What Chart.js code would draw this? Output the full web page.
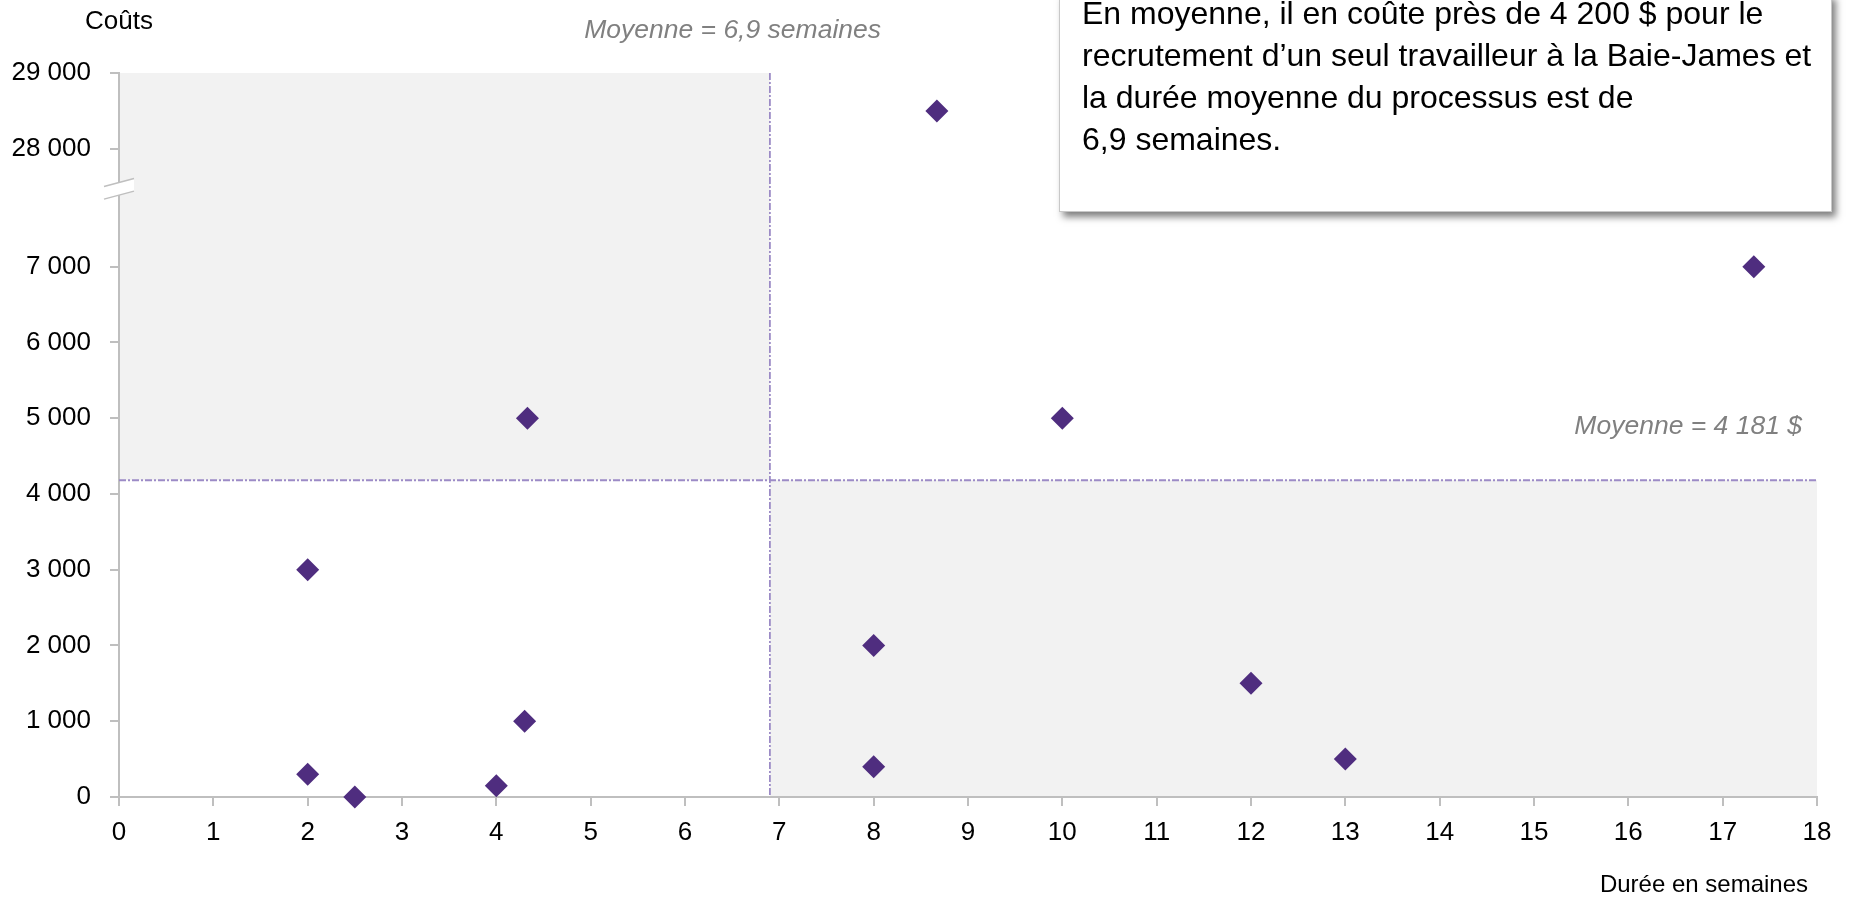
<!DOCTYPE html>
<html>
<head>
<meta charset="utf-8">
<script src="https://cdn.jsdelivr.net/npm/chart.js@4/dist/chart.umd.min.js"></script>
<style>
  html, body { margin: 0; padding: 0; background: #ffffff; }
  #wrap { position: relative; width: 1849px; height: 897px; }
</style>
</head>
<body>
<div id="wrap"><canvas id="chart"></canvas></div>
<script>
const FONT = '"Liberation Sans", Arial, sans-serif';

// Recruitment duration (weeks) and cost ($) per hire
const X_WEEKS = [2, 2, 2.5, 4, 4.3, 4.33, 8, 8, 8.67, 10, 12, 13, 17.33];
const Y_COSTS = [3000, 300, 0, 150, 1000, 5000, 2000, 400, 28500, 5000, 1500, 500, 7000];

const X_TICKS = [0, 1, 2, 3, 4, 5, 6, 7, 8, 9, 10, 11, 12, 13, 14, 15, 16, 17, 18];
const Y_TICKS = [0, 1000, 2000, 3000, 4000, 5000, 6000, 7000, 28000, 29000];

const MEAN_WEEKS = 6.9;
const MEAN_COST = 4181;

// The cost axis is cut between 7 000 and 28 000
const Y_BREAK = { low: 7000, high: 28000, gap: 1556 };

const LABEL_MEAN_WEEKS = 'Moyenne = 6,9 semaines';
const LABEL_MEAN_COST = 'Moyenne = 4 181 $';
const TITLE_Y = 'Coûts';
const TITLE_X = 'Durée en semaines';
const NOTE_LINES = [
  'En moyenne, il en coûte près de 4 200 $ pour le',
  'recrutement d’un seul travailleur à la Baie-James et',
  'la durée moyenne du processus est de',
  '6,9 semaines.'
];

const PURPLE = '#4f2d7f';
const AXIS_GREY = '#bfbfbf';
const SHADE = '#f2f2f2';
const MEAN_LINE = '#9c8bc6';

function toAxis(v) {
  return v <= Y_BREAK.low ? v : v - Y_BREAK.high + Y_BREAK.low + Y_BREAK.gap;
}
function fromAxis(a) {
  return a <= Y_BREAK.low ? a : a - Y_BREAK.low - Y_BREAK.gap + Y_BREAK.high;
}
function fmt(n) {
  return String(Math.round(n)).replace(/\B(?=(\d{3})+(?!\d))/g, ' ');
}

const points = X_WEEKS.map((x, i) => ({ x: x, y: toAxis(Y_COSTS[i]) }));

// Shaded quadrants under everything
const quadrants = {
  id: 'quadrants',
  beforeDraw(chart) {
    const { ctx, chartArea: a, scales: { x, y } } = chart;
    const mx = x.getPixelForValue(MEAN_WEEKS);
    const my = y.getPixelForValue(MEAN_COST);
    ctx.save();
    ctx.fillStyle = SHADE;
    ctx.fillRect(a.left, a.top, mx - a.left, my - a.top);
    ctx.fillRect(mx, my, a.right - mx, a.bottom - my);
    ctx.restore();
  }
};

// Dash-dot mean lines
const meanLines = {
  id: 'meanLines',
  beforeDatasetsDraw(chart) {
    const { ctx, chartArea: a, scales: { x, y } } = chart;
    const mx = x.getPixelForValue(MEAN_WEEKS);
    const my = y.getPixelForValue(MEAN_COST);
    ctx.save();
    ctx.strokeStyle = MEAN_LINE;
    ctx.lineWidth = 1.8;
    ctx.setLineDash([7, 2, 2, 2]);
    ctx.beginPath();
    ctx.moveTo(mx, a.top);
    ctx.lineTo(mx, a.bottom);
    ctx.moveTo(a.left, my);
    ctx.lineTo(a.right, my);
    ctx.stroke();
    ctx.restore();
  }
};

// Axis break, titles, mean labels and the note box
const overlay = {
  id: 'overlay',
  afterDraw(chart) {
    const { ctx, chartArea: a, scales: { x, y } } = chart;
    ctx.save();

    // axis break marker
    const yLow = y.getPixelForValue(toAxis(Y_BREAK.low));
    const yHigh = y.getPixelForValue(toAxis(Y_BREAK.high));
    const by = yLow - (yLow - yHigh) * 0.66;
    const bx = a.left;
    const hw = 15, rise = 4, sep = 6.3;
    ctx.fillStyle = '#ffffff';
    ctx.beginPath();
    ctx.moveTo(bx - hw, by + rise + sep);
    ctx.lineTo(bx + hw, by - rise + sep);
    ctx.lineTo(bx + hw, by - rise - sep);
    ctx.lineTo(bx - hw, by + rise - sep);
    ctx.closePath();
    ctx.fill();
    ctx.strokeStyle = AXIS_GREY;
    ctx.lineWidth = 1.5;
    ctx.beginPath();
    ctx.moveTo(bx - hw, by + rise + sep);
    ctx.lineTo(bx + hw, by - rise + sep);
    ctx.moveTo(bx - hw, by + rise - sep);
    ctx.lineTo(bx + hw, by - rise - sep);
    ctx.stroke();

    // axis titles
    ctx.fillStyle = '#000000';
    ctx.font = '26px ' + FONT;
    ctx.textBaseline = 'middle';
    ctx.textAlign = 'center';
    ctx.fillText(TITLE_Y, a.left, 22);
    ctx.font = '24px ' + FONT;
    ctx.textAlign = 'right';
    ctx.fillText(TITLE_X, 1808, 885);

    // mean labels
    ctx.fillStyle = '#808080';
    ctx.font = 'italic 26.5px ' + FONT;
    ctx.textAlign = 'right';
    ctx.fillText(LABEL_MEAN_WEEKS, 881, 31);
    ctx.fillText(LABEL_MEAN_COST, 1802, 427);

    // note box
    const bx0 = 1059, by0 = -6, bw = 773, bh = 218;
    ctx.save();
    ctx.shadowColor = 'rgba(0,0,0,0.5)';
    ctx.shadowBlur = 7;
    ctx.shadowOffsetX = 4;
    ctx.shadowOffsetY = 5;
    ctx.fillStyle = '#ffffff';
    ctx.fillRect(bx0, by0, bw, bh);
    ctx.restore();
    ctx.strokeStyle = '#c8c8c8';
    ctx.lineWidth = 1;
    ctx.strokeRect(bx0 + 0.5, by0 + 0.5, bw - 1, bh - 1);

    ctx.fillStyle = '#000000';
    ctx.font = '32px ' + FONT;
    ctx.textAlign = 'left';
    ctx.textBaseline = 'middle';
    NOTE_LINES.forEach((line, i) => ctx.fillText(line, 1082, 15 + i * 42));

    ctx.restore();
  }
};

new Chart(document.getElementById('chart'), {
  type: 'scatter',
  data: {
    datasets: [{
      data: points,
      pointStyle: 'rectRot',
      pointRadius: 11.5,
      pointHoverRadius: 11.5,
      backgroundColor: PURPLE,
      borderColor: PURPLE,
      borderWidth: 0,
      clip: false
    }]
  },
  options: {
    responsive: true,
    maintainAspectRatio: false,
    animation: false,
    events: [],
    layout: { padding: { left: 0, right: 32, top: 73, bottom: 0 } },
    plugins: { legend: { display: false }, tooltip: { enabled: false } },
    scales: {
      x: {
        type: 'linear',
        min: X_TICKS[0],
        max: X_TICKS[X_TICKS.length - 1],
        afterBuildTicks: s => { s.ticks = X_TICKS.map(v => ({ value: v })); },
        afterFit: s => { s.height = 100; },
        grid: {
          drawOnChartArea: false,
          drawTicks: true,
          tickLength: 9,
          color: AXIS_GREY,
          lineWidth: 2
        },
        border: { display: true, color: AXIS_GREY, width: 2 },
        ticks: {
          color: '#000000',
          font: { family: FONT, size: 26 },
          padding: 11,
          maxRotation: 0,
          autoSkip: false,
          callback: v => String(v)
        }
      },
      y: {
        type: 'linear',
        min: 0,
        max: toAxis(Y_TICKS[Y_TICKS.length - 1]),
        afterBuildTicks: s => { s.ticks = Y_TICKS.map(v => ({ value: toAxis(v) })); },
        afterFit: s => { s.width = 119; },
        grid: {
          drawOnChartArea: false,
          drawTicks: true,
          tickLength: 9,
          color: AXIS_GREY,
          lineWidth: 2
        },
        border: { display: true, color: AXIS_GREY, width: 2 },
        ticks: {
          color: '#000000',
          font: { family: FONT, size: 26 },
          padding: 19,
          autoSkip: false,
          callback: v => fmt(fromAxis(v))
        }
      }
    }
  },
  plugins: [quadrants, meanLines, overlay]
});
</script>
</body>
</html>
